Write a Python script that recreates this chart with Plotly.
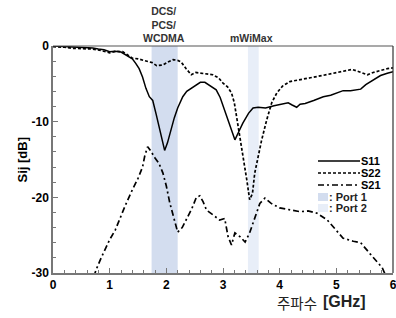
import plotly.graph_objects as go

# ---------------- data ----------------
s11_x = [0.0, 0.2, 0.4, 0.6, 0.7, 0.8, 0.9, 1.0, 1.1, 1.2, 1.25, 1.3, 1.4, 1.46, 1.52, 1.58, 1.64, 1.7, 1.76,
         1.82, 1.88, 1.93, 1.97, 2.02, 2.08, 2.14, 2.2, 2.29, 2.36, 2.44, 2.52, 2.6, 2.68, 2.77, 2.88, 2.95,
         3.03, 3.12, 3.21, 3.28, 3.35, 3.45, 3.53, 3.62, 3.75, 3.9, 4.05, 4.15, 4.22, 4.3, 4.36, 4.45, 4.6,
         4.77, 4.9, 5.0, 5.12, 5.25, 5.43, 5.52, 5.6, 5.7, 5.78, 5.9, 6.0]
s11_y = [0.0, -0.05, -0.1, -0.2, -0.25, -0.4, -0.5, -0.75, -0.7, -0.8, -1.0, -1.3, -1.7, -2.3, -3.0, -4.1, -5.6,
         -6.7, -7.2, -9.0, -11.0, -12.7, -13.8, -12.8, -11.0, -9.5, -8.2, -6.7, -6.0, -5.6, -5.2, -4.8, -4.8,
         -5.2, -5.8, -6.8, -8.5, -10.5, -12.4, -11.3, -10.2, -8.9, -8.2, -8.1, -8.2, -7.9, -7.7, -7.5, -7.8,
         -8.1, -7.7, -7.6, -7.2, -6.7, -6.5, -6.2, -5.9, -5.9, -5.7, -5.1, -4.7, -4.3, -3.9, -3.6, -3.4]

s22_x = [0.0, 0.2, 0.34, 0.5, 0.7, 0.85, 1.0, 1.1, 1.23, 1.3, 1.4, 1.5, 1.65, 1.75, 1.83, 1.94, 2.03, 2.12,
         2.2, 2.26, 2.35, 2.44, 2.52, 2.6, 2.7, 2.82, 2.92, 3.0, 3.08, 3.15, 3.2, 3.24, 3.3, 3.35, 3.42, 3.47,
         3.52, 3.56, 3.62, 3.68, 3.77, 3.86, 3.95, 4.05, 4.18, 4.35, 4.54, 4.75, 4.95, 5.1, 5.28, 5.4, 5.55,
         5.65, 5.78, 5.9, 6.0]
s22_y = [-0.1, -0.15, -0.3, -0.35, -0.4, -0.6, -0.9, -0.7, -0.75, -1.1, -1.6, -1.7, -2.0, -2.2, -2.6, -2.5,
         -2.1, -1.8, -1.9, -2.1, -3.0, -3.8, -3.5, -3.6, -3.7, -3.8, -4.2, -4.9, -5.4, -6.2, -7.5, -9.3, -11.8,
         -14.1, -17.7, -20.3, -19.5, -16.8, -14.5, -12.5, -9.8, -7.5, -6.2, -5.3, -4.7, -4.5, -4.2, -3.9, -3.6,
         -3.4, -3.1, -3.4, -3.8, -3.5, -3.2, -3.0, -2.9]

s21_x = [0.72, 0.76, 0.85, 1.0, 1.1, 1.17, 1.28, 1.4, 1.5, 1.58, 1.62, 1.67, 1.72, 1.8, 1.87, 1.94, 2.0, 2.06,
         2.12, 2.2, 2.28, 2.35, 2.45, 2.53, 2.59, 2.65, 2.71, 2.82, 2.94, 3.03, 3.09, 3.15, 3.21, 3.3, 3.39,
         3.47, 3.56, 3.65, 3.74, 3.85, 4.0, 4.15, 4.36, 4.5, 4.66, 4.84, 4.95, 5.12, 5.3, 5.43, 5.6, 5.81, 5.88]
s21_y = [-30.5, -29.6, -28.0, -25.6, -24.3, -23.0, -21.0, -19.0, -17.5, -16.0, -14.5, -13.3, -13.8, -14.8,
         -15.5, -16.8, -18.5, -20.7, -22.5, -24.6, -24.0, -23.0, -21.5, -20.0, -19.8, -20.6, -21.7, -22.3,
         -23.0, -22.8, -25.2, -26.3, -24.7, -25.2, -25.9, -24.7, -22.6, -20.8, -20.1, -20.8, -21.4, -21.6,
         -21.9, -21.8, -22.1, -23.0, -24.0, -25.4, -25.8, -26.0, -27.5, -29.3, -30.5]

band_port1 = [1.74, 2.2]   # DCS/PCS/WCDMA
band_port2 = [3.44, 3.63]  # mWiMax
band_labels = ["DCS/<br>PCS/<br>WCDMA", "mWiMax"]
band_label_x = [1.95, 3.5]

x_ticks = [0, 1, 2, 3, 4, 5, 6]
y_ticks = [0, -10, -20, -30]

# ---------------- layout constants ----------------
W, H = 396, 318
L, R, T, B = 53, 3, 46, 45
PW, PH = W - L - R, H - T - B
FONT = "Liberation Sans, Arial, sans-serif"
C_P1 = "#d3ddef"
C_P2 = "#e8eef8"


def px(xp):
    return (xp - L) / PW


def py(yp):
    return 1 - (yp - T) / PH


fig = go.Figure()

# bands
fig.add_vrect(x0=band_port1[0], x1=band_port1[1], fillcolor=C_P1, line_width=0, layer="below")
fig.add_vrect(x0=band_port2[0], x1=band_port2[1], fillcolor=C_P2, line_width=0, layer="below")

fig.add_trace(go.Scatter(x=s11_x, y=s11_y, mode="lines", name="S11",
                         line=dict(color="black", width=1.5)))
fig.add_trace(go.Scatter(x=s22_x, y=s22_y, mode="lines", name="S22",
                         line=dict(color="black", width=1.7, dash="3px,2px")))
fig.add_trace(go.Scatter(x=s21_x, y=s21_y, mode="lines", name="S21",
                         line=dict(color="black", width=1.7, dash="6px,3px,2px,3px")))

# band labels
for lx, lt in zip(band_label_x, band_labels):
    fig.add_annotation(x=lx, xref="x", y=py(46), yref="paper", yanchor="bottom",
                       text="<b>" + lt + "</b>", showarrow=False,
                       font=dict(family=FONT, size=10.5, color="#333"))

# manual legend
leg = [("S11", "solid", 161), ("S22", "3px,2px", 173), ("S21", "6px,3px,2px,3px", 185)]
for name, dash, yy in leg:
    fig.add_shape(type="line", xref="paper", yref="paper", x0=px(318), x1=px(360), y0=py(yy), y1=py(yy),
                  line=dict(color="black", width=1.6, dash=dash))
    fig.add_annotation(x=px(359), y=py(yy), xref="paper", yref="paper", xanchor="left", yanchor="middle",
                       text="<b>" + name + "</b>", showarrow=False,
                       font=dict(family=FONT, size=11, color="black"))
for name, col, yy in [(": Port 1", C_P1, 197), (": Port 2", C_P2, 208)]:
    fig.add_shape(type="rect", xref="paper", yref="paper", x0=px(318), x1=px(328), y0=py(yy + 4),
                  y1=py(yy - 4), fillcolor=col, line_width=0)
    fig.add_annotation(x=px(327), y=py(yy), xref="paper", yref="paper", xanchor="left", yanchor="middle",
                       text="<b>" + name + "</b>", showarrow=False,
                       font=dict(family=FONT, size=11, color="#222"))

# axis titles
fig.add_annotation(x=px(12), y=py(160), xref="paper", yref="paper", text="<b>Sij [dB]</b>", textangle=-90,
                   showarrow=False, font=dict(family=FONT, size=13, color="black"))
fig.add_annotation(x=px(275), y=py(302), xref="paper", yref="paper", xanchor="left", yanchor="middle",
                   text="주파수", showarrow=False,
                   font=dict(family="Noto Sans CJK KR", size=14.5, color="#222"))
fig.add_annotation(x=px(321), y=py(301), xref="paper", yref="paper", xanchor="left", yanchor="middle",
                   text="<b>[GHz]</b>", showarrow=False,
                   font=dict(family=FONT, size=16, color="#222"))

fig.update_xaxes(range=[0, 6], tickvals=x_ticks, ticktext=["<b>%d</b>" % v for v in x_ticks],
                 ticks="inside", ticklen=5, tickcolor="#777", showline=True, linecolor="#777", linewidth=1.5,
                 minor=dict(dtick=0.2, ticks="inside", ticklen=3, tickcolor="#777"),
                 showgrid=False, zeroline=False, mirror=False, automargin=False, ticklabeloverflow="allow",
                 tickfont=dict(family=FONT, size=12, color="black"))
fig.update_yaxes(range=[-30, 0], tickvals=y_ticks, ticktext=["<b>%d</b>" % v for v in y_ticks],
                 ticks="inside", ticklen=5, tickcolor="#777", showline=True, linecolor="#777", linewidth=1.5,
                 minor=dict(dtick=2, ticks="inside", ticklen=3, tickcolor="#777"),
                 showgrid=False, zeroline=False, automargin=False, ticklabeloverflow="allow",
                 tickfont=dict(family=FONT, size=12, color="black"))

# top and right frame
fig.add_shape(type="line", xref="paper", yref="paper", x0=0, x1=1, y0=1, y1=1, line=dict(color="#555", width=1.2))
fig.add_shape(type="line", xref="paper", yref="paper", x0=1, x1=1, y0=0, y1=1, line=dict(color="#333", width=1.2))

fig.update_layout(width=W, height=H, margin=dict(l=L, r=R, t=T, b=B, autoexpand=False), showlegend=False,
                  plot_bgcolor="white", paper_bgcolor="white")

fig.write_html("out.html", config={"displayModeBar": False},
               post_script="document.body.style.margin='0';document.body.style.overflow='hidden';")
